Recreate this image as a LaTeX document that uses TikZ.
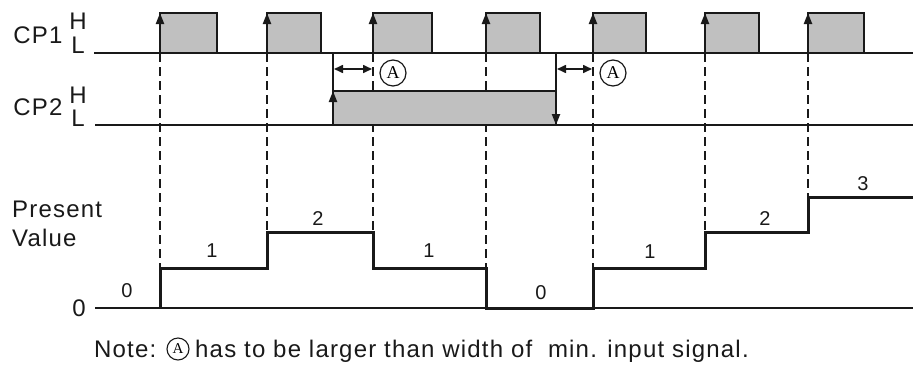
\documentclass[tikz,border=0pt]{standalone}
\usepackage{fontspec}
\setmainfont{Liberation Sans}
\newfontfamily\spacedfont[LetterSpace=5]{Liberation Sans}
\newfontfamily\serifA{Liberation Serif}
\usetikzlibrary{arrows.meta}
\definecolor{pulsegray}{RGB}{192,192,192}
\definecolor{ink}{RGB}{25,25,25}
\begin{document}
\begin{tikzpicture}[x=1pt,y=-1pt,
  thinline/.style={line width=1.4pt, draw=ink},
  pulse/.style={fill=pulsegray, draw=ink, line width=1.4pt},
  edgearrow/.style={line width=2.2pt, draw=ink, -{Triangle[length=11pt,width=8pt]}},
  guide/.style={line width=2pt, draw=ink, dash pattern=on 9pt off 5pt},
  stepline/.style={line width=3pt, draw=ink, line join=miter},
  spanarrow/.style={line width=1.6pt, draw=ink, {Triangle[length=9pt,width=8pt]}-{Triangle[length=9pt,width=8pt]}},
  circA/.style={circle, draw=ink, line width=1.2pt, minimum size=26pt, inner sep=0pt, font=\serifA\fontsize{18}{18}\selectfont},
  smallcircA/.style={circle, draw=ink, line width=1.1pt, minimum size=22pt, inner sep=0pt, font=\serifA\fontsize{15}{15}\selectfont},
  lbl/.style={font=\spacedfont\fontsize{24}{24}\selectfont, inner sep=0pt, text=ink},
  num/.style={font=\spacedfont\fontsize{20}{20}\selectfont, inner sep=0pt, text=ink},
  notetext/.style={font=\spacedfont\fontsize{24}{24}\selectfont, inner sep=0pt, text=ink},
]
\useasboundingbox (0,0) rectangle (913,365);

% baselines
\coordinate (cp1s) at (94,53);  \coordinate (cp1e) at (913,53);
\coordinate (cp2s) at (95,125); \coordinate (cp2e) at (913,125);
\coordinate (pvs)  at (95,308); \coordinate (pve)  at (913,308);
\draw[thinline] (cp1s) -- (cp1e);
\draw[thinline] (cp2s) -- (cp2e);
\draw[thinline] (pvs) -- (pve);

% step points of the present value
\coordinate (p1) at (160,268);
\coordinate (p2) at (267,232);
\coordinate (p3) at (373,232);
\coordinate (p4) at (486,268);
\coordinate (p5) at (593,268);
\coordinate (p6) at (705,232);
\coordinate (p7) at (808,197);

% CP1 pulses
\foreach \i/\a/\b in {1/160/217, 2/267/321, 3/373/432, 4/486/540, 5/593/646, 6/705/759, 7/808/864}{
  \draw[pulse] (\a,53) rectangle (\b,13);
  \coordinate (r\i) at (\a,53);
  \coordinate (t\i) at (\a,13);
  \draw[guide] (r\i) -- (p\i);
  \draw[edgearrow] (r\i) -- (t\i);
}

% CP2 pulse
\draw[pulse] (333,125) rectangle (556,91);
\coordinate (c2up0) at (333,53);
\coordinate (c2upb) at (333,125);
\coordinate (c2upt) at (333,91);
\coordinate (c2dn0) at (556,53);
\coordinate (c2dnb) at (556,125);
\draw[thinline] (c2up0) -- (c2upt);
\draw[edgearrow] (c2upb) -- (c2upt);
\draw[edgearrow] (c2dn0) -- (c2dnb);

% spans A
\coordinate (sa1) at (334,69); \coordinate (sb1) at (372,69);
\coordinate (sa2) at (557,69); \coordinate (sb2) at (592,69);
\draw[spanarrow] (sa1) -- (sb1);
\draw[spanarrow] (sa2) -- (sb2);
\node[circA] (A1) at (393,73) {A};
\node[circA] (A2) at (613,73) {A};

% labels
\node[lbl] (cp1) at (38,35) {CP1};
\node[lbl] (cp1h) at (78,21) {H};
\node[lbl] (cp1l) at (78,45) {L};
\node[lbl] (cp2) at (38,107) {CP2};
\node[lbl] (cp2h) at (78,95) {H};
\node[lbl] (cp2l) at (78,118) {L};
\node[lbl, anchor=base west] (pres) at (12,217) {Present};
\node[lbl, anchor=base west] (val) at (12,246) {Value};
\node[lbl] (zero) at (79,308) {0};

% step line
\draw[stepline] (160,308) -- (p1) -- (267,268) -- (p2) -- (p3) -- (373,268) -- (p4) -- (486,308) -- (593,308) -- (p5) -- (705,268) -- (p6) -- (808,232) -- (p7) -- (913,197);

% value labels
\node[num] (v0a) at (127,291) {0};
\node[num] (v1a) at (212,251) {1};
\node[num] (v2a) at (318,219) {2};
\node[num] (v1b) at (429,251) {1};
\node[num] (v0b) at (541,293) {0};
\node[num] (v1c) at (650,252) {1};
\node[num] (v2b) at (765,219) {2};
\node[num] (v3) at (863,184) {3};

% note
\node[notetext, anchor=base west] (note) at (94,357) {Note:};
\node[smallcircA] (A3) at (178,349) {A};
\node[notetext, anchor=base west] (notetxt) at (195,357) {has to be larger than width of\ \ min. input signal.};
\end{tikzpicture}
\end{document}
